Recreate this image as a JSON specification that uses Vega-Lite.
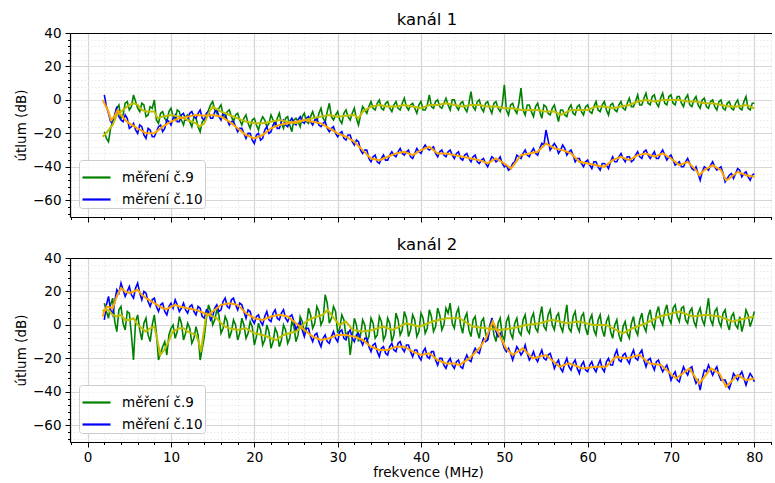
{
"$schema": "https://vega.github.io/schema/vega-lite/v6.json",
"padding": {"left": 14, "top": 11, "right": 0, "bottom": 0},
"config": {
  "font": "DejaVu Sans",
  "view": {"stroke": null},
  "axis": {"labelFont": "DejaVu Sans", "labelFontSize": 13.5, "labelColor": "black", "titleFont": "DejaVu Sans", "titleFontSize": 13.5, "titleFontWeight": "normal", "titleColor": "black", "tickColor": "black", "domainColor": "black", "domainWidth": 1.2, "tickWidth": 1, "gridColor": "#d6d6d6", "gridWidth": 1.2, "labelPadding": 4, "titlePadding": 4},
  "title": {"font": "DejaVu Sans", "fontSize": 16.5, "fontWeight": "normal", "color": "black", "offset": -2, "dx": 6},
  "legend": {"orient": "bottom-left", "offset": 9, "symbolType": "stroke", "symbolStrokeWidth": 2.2, "symbolSize": 784, "labelFont": "DejaVu Sans", "labelFontSize": 13.5, "labelColor": "black", "strokeColor": "#cccccc", "fillColor": "rgba(255,255,255,0.85)", "cornerRadius": 3, "padding": 2, "rowPadding": -5, "labelOffset": 10},
  "concat": {"spacing": 13}
},
"datasets": {
"r1": [
{"f":2,"g":-19,"b":3},{"f":2.5,"g":-25,"b":-8},{"f":3,"g":-13,"b":-14},{"f":3.5,"g":-5,"b":-4},{"f":4,"g":-11,"b":-12},{"f":4.5,"g":-2,"b":-9},{"f":5,"g":-6,"b":-17},{"f":5.5,"g":3,"b":-14},{"f":6,"g":-5,"b":-20},{"f":6.5,"g":-2,"b":-16},{"f":7,"g":-10,"b":-23},{"f":7.5,"g":-4,"b":-18},{"f":8,"g":0,"b":-22},{"f":8.5,"g":-14,"b":-16},{"f":9,"g":-7,"b":-19},{"f":9.5,"g":-13,"b":-12},{"f":10,"g":-5,"b":-15},{"f":10.5,"g":-12,"b":-9},{"f":11,"g":-7,"b":-13},{"f":11.5,"g":-15,"b":-8},{"f":12,"g":-9,"b":-12},{"f":12.5,"g":-16,"b":-7},{"f":13,"g":-11,"b":-11},{"f":13.5,"g":-19,"b":-6},{"f":14,"g":-12,"b":-12},{"f":14.5,"g":-6,"b":-7},{"f":15,"g":-1,"b":-11},{"f":15.5,"g":-8,"b":-6},{"f":16,"g":-3,"b":-12},{"f":16.5,"g":-11,"b":-9},{"f":17,"g":-6,"b":-15},{"f":17.5,"g":-13,"b":-13},{"f":18,"g":-8,"b":-19},{"f":18.5,"g":-15,"b":-17},{"f":19,"g":-9,"b":-23},{"f":19.5,"g":-17,"b":-20},{"f":20,"g":-11,"b":-26},{"f":20.5,"g":-18,"b":-20},{"f":21,"g":-10,"b":-23},{"f":21.5,"g":-16,"b":-16},{"f":22,"g":-9,"b":-19},{"f":22.5,"g":-15,"b":-13},{"f":23,"g":-8,"b":-17},{"f":23.5,"g":-17,"b":-12},{"f":24,"g":-10,"b":-16},{"f":24.5,"g":-19,"b":-11},{"f":25,"g":-11,"b":-15},{"f":25.5,"g":-16,"b":-10},{"f":26,"g":-8,"b":-14},{"f":26.5,"g":-14,"b":-10},{"f":27,"g":-7,"b":-15},{"f":27.5,"g":-13,"b":-11},{"f":28,"g":-5,"b":-16},{"f":28.5,"g":-13,"b":-13},{"f":29,"g":-2,"b":-19},{"f":29.5,"g":-12,"b":-16},{"f":30,"g":-7,"b":-22},{"f":30.5,"g":-14,"b":-19},{"f":31,"g":-6,"b":-24},{"f":31.5,"g":-12,"b":-21},{"f":32,"g":-5,"b":-27},{"f":32.5,"g":-15,"b":-25},{"f":33,"g":-4,"b":-32},{"f":33.5,"g":-8,"b":-30},{"f":34,"g":-1,"b":-37},{"f":34.5,"g":-6,"b":-33},{"f":35,"g":0,"b":-38},{"f":35.5,"g":-6,"b":-33},{"f":36,"g":-1,"b":-36},{"f":36.5,"g":-7,"b":-31},{"f":37,"g":-1,"b":-34},{"f":37.5,"g":-6,"b":-29},{"f":38,"g":1,"b":-33},{"f":38.5,"g":-6,"b":-30},{"f":39,"g":-2,"b":-35},{"f":39.5,"g":-8,"b":-29},{"f":40,"g":-1,"b":-32},{"f":40.5,"g":-6,"b":-27},{"f":41,"g":3,"b":-30},{"f":41.5,"g":-5,"b":-28},{"f":42,"g":0,"b":-34},{"f":42.5,"g":-5,"b":-30},{"f":43,"g":1,"b":-34},{"f":43.5,"g":-6,"b":-30},{"f":44,"g":0,"b":-35},{"f":44.5,"g":-6,"b":-31},{"f":45,"g":-1,"b":-36},{"f":45.5,"g":-7,"b":-32},{"f":46,"g":5,"b":-37},{"f":46.5,"g":-6,"b":-33},{"f":47,"g":0,"b":-38},{"f":47.5,"g":-7,"b":-35},{"f":48,"g":-1,"b":-40},{"f":48.5,"g":-8,"b":-34},{"f":49,"g":-1,"b":-37},{"f":49.5,"g":-7,"b":-34},{"f":50,"g":9,"b":-40},{"f":50.5,"g":-9,"b":-42},{"f":51,"g":-2,"b":-38},{"f":51.5,"g":-8,"b":-33},{"f":52,"g":7,"b":-35},{"f":52.5,"g":-9,"b":-30},{"f":53,"g":-3,"b":-34},{"f":53.5,"g":-10,"b":-29},{"f":54,"g":-2,"b":-33},{"f":54.5,"g":-11,"b":-26},{"f":55,"g":-4,"b":-18},{"f":55.5,"g":-9,"b":-30},{"f":56,"g":-3,"b":-26},{"f":56.5,"g":-13,"b":-32},{"f":57,"g":-6,"b":-27},{"f":57.5,"g":-10,"b":-33},{"f":58,"g":-3,"b":-30},{"f":58.5,"g":-9,"b":-37},{"f":59,"g":-3,"b":-35},{"f":59.5,"g":-9,"b":-40},{"f":60,"g":-3,"b":-36},{"f":60.5,"g":-8,"b":-41},{"f":61,"g":-1,"b":-37},{"f":61.5,"g":-7,"b":-42},{"f":62,"g":-1,"b":-38},{"f":62.5,"g":-9,"b":-41},{"f":63,"g":-2,"b":-34},{"f":63.5,"g":-7,"b":-37},{"f":64,"g":-1,"b":-32},{"f":64.5,"g":-6,"b":-37},{"f":65,"g":1,"b":-34},{"f":65.5,"g":-4,"b":-36},{"f":66,"g":3,"b":-31},{"f":66.5,"g":-3,"b":-35},{"f":67,"g":4,"b":-30},{"f":67.5,"g":-3,"b":-35},{"f":68,"g":3,"b":-31},{"f":68.5,"g":-4,"b":-35},{"f":69,"g":4,"b":-30},{"f":69.5,"g":-3,"b":-36},{"f":70,"g":3,"b":-33},{"f":70.5,"g":-3,"b":-39},{"f":71,"g":2,"b":-37},{"f":71.5,"g":-4,"b":-40},{"f":72,"g":3,"b":-35},{"f":72.5,"g":-4,"b":-41},{"f":73,"g":2,"b":-40},{"f":73.5,"g":-5,"b":-48},{"f":74,"g":1,"b":-40},{"f":74.5,"g":-5,"b":-42},{"f":75,"g":0,"b":-37},{"f":75.5,"g":-6,"b":-42},{"f":76,"g":0,"b":-40},{"f":76.5,"g":-6,"b":-49},{"f":77,"g":-1,"b":-45},{"f":77.5,"g":-6,"b":-47},{"f":78,"g":0,"b":-41},{"f":78.5,"g":-6,"b":-46},{"f":79,"g":2,"b":-43},{"f":79.5,"g":-6,"b":-48},{"f":80,"g":-2,"b":-44},
{"f":2.25,"g":-23,"b":-4},{"f":2.75,"g":-17,"b":-13},{"f":3.25,"g":-9,"b":-9},{"f":3.75,"g":-3,"b":-10},{"f":4.25,"g":-9,"b":-13},{"f":4.75,"g":-1,"b":-11},{"f":5.25,"g":-4,"b":-16},{"f":5.75,"g":-1,"b":-18},{"f":6.25,"g":-7,"b":-15},{"f":6.75,"g":-3,"b":-21},{"f":7.25,"g":-9,"b":-17},{"f":7.75,"g":-5,"b":-22},{"f":8.25,"g":-12,"b":-19},{"f":8.75,"g":-8,"b":-15},{"f":9.25,"g":-11,"b":-17},{"f":9.75,"g":-7,"b":-13},{"f":10.25,"g":-10,"b":-11},{"f":10.75,"g":-6,"b":-13},{"f":11.25,"g":-12,"b":-9},{"f":11.75,"g":-10,"b":-12},{"f":12.25,"g":-13,"b":-8},{"f":12.75,"g":-10,"b":-10},{"f":13.25,"g":-16,"b":-8},{"f":13.75,"g":-13,"b":-11},{"f":14.25,"g":-10,"b":-8},{"f":14.75,"g":-3,"b":-11},{"f":15.25,"g":-6,"b":-7},{"f":15.75,"g":-5,"b":-10},{"f":16.25,"g":-9,"b":-8},{"f":16.75,"g":-7,"b":-12},{"f":17.25,"g":-10,"b":-13},{"f":17.75,"g":-9,"b":-16},{"f":18.25,"g":-12,"b":-17},{"f":18.75,"g":-11,"b":-20},{"f":19.25,"g":-14,"b":-20},{"f":19.75,"g":-12,"b":-24},{"f":20.25,"g":-15,"b":-21},{"f":20.75,"g":-13,"b":-24},{"f":21.25,"g":-12,"b":-18},{"f":21.75,"g":-14,"b":-20},{"f":22.25,"g":-12,"b":-15},{"f":22.75,"g":-11,"b":-17},{"f":23.25,"g":-14,"b":-13},{"f":23.75,"g":-11,"b":-15},{"f":24.25,"g":-15,"b":-13},{"f":24.75,"g":-12,"b":-14},{"f":25.25,"g":-13,"b":-12},{"f":25.75,"g":-10,"b":-13},{"f":26.25,"g":-13,"b":-11},{"f":26.75,"g":-10,"b":-13},{"f":27.25,"g":-11,"b":-12},{"f":27.75,"g":-8,"b":-15},{"f":28.25,"g":-11,"b":-14},{"f":28.75,"g":-7,"b":-17},{"f":29.25,"g":-10,"b":-17},{"f":29.75,"g":-9,"b":-20},{"f":30.25,"g":-12,"b":-20},{"f":30.75,"g":-8,"b":-23},{"f":31.25,"g":-10,"b":-21},{"f":31.75,"g":-8,"b":-25},{"f":32.25,"g":-11,"b":-24},{"f":32.75,"g":-9,"b":-30},{"f":33.25,"g":-6,"b":-30},{"f":33.75,"g":-4,"b":-35},{"f":34.25,"g":-5,"b":-34},{"f":34.75,"g":-2,"b":-37},{"f":35.25,"g":-5,"b":-35},{"f":35.75,"g":-2,"b":-36},{"f":36.25,"g":-5,"b":-33},{"f":36.75,"g":-3,"b":-33},{"f":37.25,"g":-5,"b":-31},{"f":37.75,"g":-2,"b":-32},{"f":38.25,"g":-4,"b":-31},{"f":38.75,"g":-3,"b":-34},{"f":39.25,"g":-5,"b":-32},{"f":39.75,"g":-3,"b":-31},{"f":40.25,"g":-6,"b":-29},{"f":40.75,"g":-3,"b":-29},{"f":41.25,"g":-4,"b":-29},{"f":41.75,"g":-1,"b":-32},{"f":42.25,"g":-4,"b":-31},{"f":42.75,"g":-2,"b":-33},{"f":43.25,"g":-3,"b":-31},{"f":43.75,"g":0,"b":-33},{"f":44.25,"g":-4,"b":-32},{"f":44.75,"g":-2,"b":-35},{"f":45.25,"g":-5,"b":-33},{"f":45.75,"g":-2,"b":-35},{"f":46.25,"g":-4,"b":-34},{"f":46.75,"g":-1,"b":-37},{"f":47.25,"g":-5,"b":-36},{"f":47.75,"g":-2,"b":-38},{"f":48.25,"g":-5,"b":-37},{"f":48.75,"g":-2,"b":-35},{"f":49.25,"g":-5,"b":-36},{"f":49.75,"g":-3,"b":-38},{"f":50.25,"g":-6,"b":-39},{"f":50.75,"g":-3,"b":-41},{"f":51.25,"g":-6,"b":-37},{"f":51.75,"g":-2,"b":-34},{"f":52.25,"g":-6,"b":-32},{"f":52.75,"g":-3,"b":-33},{"f":53.25,"g":-7,"b":-31},{"f":53.75,"g":-4,"b":-32},{"f":54.25,"g":-7,"b":-29},{"f":54.75,"g":-3,"b":-27},{"f":55.25,"g":-8,"b":-24},{"f":55.75,"g":-5,"b":-28},{"f":56.25,"g":-8,"b":-28},{"f":56.75,"g":-6,"b":-30},{"f":57.25,"g":-9,"b":-29},{"f":57.75,"g":-5,"b":-31},{"f":58.25,"g":-8,"b":-33},{"f":58.75,"g":-4,"b":-35},{"f":59.25,"g":-7,"b":-38},{"f":59.75,"g":-4,"b":-37},{"f":60.25,"g":-7,"b":-39},{"f":60.75,"g":-4,"b":-37},{"f":61.25,"g":-6,"b":-40},{"f":61.75,"g":-3,"b":-38},{"f":62.25,"g":-6,"b":-39},{"f":62.75,"g":-3,"b":-37},{"f":63.25,"g":-6,"b":-37},{"f":63.75,"g":-3,"b":-34},{"f":64.25,"g":-5,"b":-35},{"f":64.75,"g":-2,"b":-34},{"f":65.25,"g":-4,"b":-37},{"f":65.75,"g":-1,"b":-33},{"f":66.25,"g":-3,"b":-34},{"f":66.75,"g":1,"b":-31},{"f":67.25,"g":-2,"b":-33},{"f":67.75,"g":2,"b":-33},{"f":68.25,"g":-2,"b":-35},{"f":68.75,"g":1,"b":-32},{"f":69.25,"g":-2,"b":-33},{"f":69.75,"g":2,"b":-34},{"f":70.25,"g":-2,"b":-36},{"f":70.75,"g":2,"b":-38},{"f":71.25,"g":-2,"b":-40},{"f":71.75,"g":1,"b":-37},{"f":72.25,"g":-3,"b":-38},{"f":72.75,"g":0,"b":-42},{"f":73.25,"g":-3,"b":-44},{"f":73.75,"g":0,"b":-43},{"f":74.25,"g":-4,"b":-41},{"f":74.75,"g":-1,"b":-39},{"f":75.25,"g":-4,"b":-40},{"f":75.75,"g":-1,"b":-41},{"f":76.25,"g":-5,"b":-44},{"f":76.75,"g":-2,"b":-47},{"f":77.25,"g":-5,"b":-44},{"f":77.75,"g":-2,"b":-44},{"f":78.25,"g":-5,"b":-42},{"f":78.75,"g":-1,"b":-44},{"f":79.25,"g":-5,"b":-46},{"f":79.75,"g":-2,"b":-45}
],
"r2": [
{"f":2,"g":13,"b":3},{"f":2.5,"g":4,"b":17},{"f":3,"g":16,"b":6},{"f":3.5,"g":-4,"b":21},{"f":4,"g":11,"b":25},{"f":4.5,"g":-3,"b":17},{"f":5,"g":7,"b":23},{"f":5.5,"g":-21,"b":16},{"f":6,"g":6,"b":25},{"f":6.5,"g":-9,"b":15},{"f":7,"g":4,"b":19},{"f":7.5,"g":-10,"b":11},{"f":8,"g":6,"b":16},{"f":8.5,"g":-21,"b":8},{"f":9,"g":-13,"b":13},{"f":9.5,"g":-18,"b":6},{"f":10,"g":-2,"b":13},{"f":10.5,"g":-8,"b":15},{"f":11,"g":5,"b":8},{"f":11.5,"g":-9,"b":13},{"f":12,"g":1,"b":7},{"f":12.5,"g":-11,"b":12},{"f":13,"g":-1,"b":6},{"f":13.5,"g":-21,"b":10},{"f":14,"g":-7,"b":4},{"f":14.5,"g":12,"b":8},{"f":15,"g":0,"b":5},{"f":15.5,"g":9,"b":12},{"f":16,"g":-5,"b":9},{"f":16.5,"g":5,"b":16},{"f":17,"g":-8,"b":10},{"f":17.5,"g":3,"b":16},{"f":18,"g":-9,"b":9},{"f":18.5,"g":4,"b":12},{"f":19,"g":-8,"b":4},{"f":19.5,"g":2,"b":8},{"f":20,"g":-12,"b":1},{"f":20.5,"g":1,"b":6},{"f":21,"g":-12,"b":0},{"f":21.5,"g":0,"b":8},{"f":22,"g":-14,"b":2},{"f":22.5,"g":-2,"b":9},{"f":23,"g":-13,"b":3},{"f":23.5,"g":0,"b":9},{"f":24,"g":-11,"b":2},{"f":24.5,"g":2,"b":6},{"f":25,"g":-10,"b":-3},{"f":25.5,"g":5,"b":2},{"f":26,"g":-4,"b":-7},{"f":26.5,"g":10,"b":-2},{"f":27,"g":-2,"b":-10},{"f":27.5,"g":11,"b":-5},{"f":28,"g":0,"b":-13},{"f":28.5,"g":18,"b":-6},{"f":29,"g":1,"b":-11},{"f":29.5,"g":11,"b":-4},{"f":30,"g":-5,"b":-10},{"f":30.5,"g":6,"b":-3},{"f":31,"g":-7,"b":-9},{"f":31.5,"g":-18,"b":-3},{"f":32,"g":4,"b":-10},{"f":32.5,"g":-10,"b":-5},{"f":33,"g":3,"b":-12},{"f":33.5,"g":-10,"b":-8},{"f":34,"g":4,"b":-16},{"f":34.5,"g":-8,"b":-11},{"f":35,"g":5,"b":-19},{"f":35.5,"g":-9,"b":-13},{"f":36,"g":4,"b":-18},{"f":36.5,"g":-10,"b":-11},{"f":37,"g":7,"b":-16},{"f":37.5,"g":-6,"b":-10},{"f":38,"g":8,"b":-16},{"f":38.5,"g":-7,"b":-12},{"f":39,"g":6,"b":-19},{"f":39.5,"g":-7,"b":-15},{"f":40,"g":7,"b":-21},{"f":40.5,"g":-5,"b":-14},{"f":41,"g":9,"b":-20},{"f":41.5,"g":-4,"b":-16},{"f":42,"g":10,"b":-24},{"f":42.5,"g":-3,"b":-20},{"f":43,"g":10,"b":-26},{"f":43.5,"g":13,"b":-20},{"f":44,"g":-2,"b":-26},{"f":44.5,"g":10,"b":-21},{"f":45,"g":-5,"b":-26},{"f":45.5,"g":7,"b":-18},{"f":46,"g":-7,"b":-22},{"f":46.5,"g":5,"b":-14},{"f":47,"g":-8,"b":-17},{"f":47.5,"g":4,"b":-8},{"f":48,"g":-9,"b":-9},{"f":48.5,"g":3,"b":4},{"f":49,"g":-10,"b":-4},{"f":49.5,"g":4,"b":-5},{"f":50,"g":-9,"b":-14},{"f":50.5,"g":5,"b":-14},{"f":51,"g":-8,"b":-21},{"f":51.5,"g":4,"b":-13},{"f":52,"g":-6,"b":-18},{"f":52.5,"g":6,"b":-12},{"f":53,"g":-5,"b":-21},{"f":53.5,"g":7,"b":-16},{"f":54,"g":-4,"b":-22},{"f":54.5,"g":11,"b":-15},{"f":55,"g":-3,"b":-21},{"f":55.5,"g":9,"b":-17},{"f":56,"g":-3,"b":-26},{"f":56.5,"g":7,"b":-21},{"f":57,"g":-4,"b":-28},{"f":57.5,"g":12,"b":-20},{"f":58,"g":-4,"b":-27},{"f":58.5,"g":8,"b":-21},{"f":59,"g":-4,"b":-29},{"f":59.5,"g":7,"b":-22},{"f":60,"g":-6,"b":-28},{"f":60.5,"g":6,"b":-22},{"f":61,"g":-6,"b":-28},{"f":61.5,"g":6,"b":-21},{"f":62,"g":-7,"b":-28},{"f":62.5,"g":5,"b":-20},{"f":63,"g":-8,"b":-24},{"f":63.5,"g":3,"b":-15},{"f":64,"g":-10,"b":-22},{"f":64.5,"g":2,"b":-17},{"f":65,"g":-8,"b":-23},{"f":65.5,"g":5,"b":-15},{"f":66,"g":-6,"b":-21},{"f":66.5,"g":7,"b":-15},{"f":67,"g":-4,"b":-25},{"f":67.5,"g":9,"b":-20},{"f":68,"g":-2,"b":-27},{"f":68.5,"g":11,"b":-21},{"f":69,"g":0,"b":-28},{"f":69.5,"g":12,"b":-24},{"f":70,"g":1,"b":-33},{"f":70.5,"g":12,"b":-28},{"f":71,"g":2,"b":-34},{"f":71.5,"g":11,"b":-25},{"f":72,"g":1,"b":-30},{"f":72.5,"g":10,"b":-25},{"f":73,"g":-1,"b":-35},{"f":73.5,"g":10,"b":-39},{"f":74,"g":0,"b":-27},{"f":74.5,"g":16,"b":-24},{"f":75,"g":0,"b":-30},{"f":75.5,"g":10,"b":-25},{"f":76,"g":-1,"b":-33},{"f":76.5,"g":9,"b":-33},{"f":77,"g":-3,"b":-38},{"f":77.5,"g":7,"b":-29},{"f":78,"g":-2,"b":-33},{"f":78.5,"g":-4,"b":-28},{"f":79,"g":9,"b":-36},{"f":79.5,"g":-1,"b":-29},{"f":80,"g":8,"b":-34},
{"f":2.25,"g":8,"b":12},{"f":2.75,"g":12,"b":9},{"f":3.25,"g":2,"b":14},{"f":3.75,"g":9,"b":19},{"f":4.25,"g":1,"b":21},{"f":4.75,"g":8,"b":20},{"f":5.25,"g":-6,"b":18},{"f":5.75,"g":2,"b":22},{"f":6.25,"g":-3,"b":19},{"f":6.75,"g":1,"b":20},{"f":7.25,"g":-6,"b":14},{"f":7.75,"g":0,"b":15},{"f":8.25,"g":-5,"b":11},{"f":8.75,"g":-17,"b":12},{"f":9.25,"g":-10,"b":8},{"f":9.75,"g":-6,"b":11},{"f":10.25,"g":0,"b":10},{"f":10.75,"g":-4,"b":12},{"f":11.25,"g":1,"b":10},{"f":11.75,"g":-5,"b":9},{"f":12.25,"g":-2,"b":11},{"f":12.75,"g":-8,"b":8},{"f":13.25,"g":-6,"b":11},{"f":13.75,"g":-14,"b":5},{"f":14.25,"g":4,"b":9},{"f":14.75,"g":8,"b":3},{"f":15.25,"g":3,"b":10},{"f":15.75,"g":6,"b":8},{"f":16.25,"g":-2,"b":14},{"f":16.75,"g":2,"b":11},{"f":17.25,"g":-4,"b":15},{"f":17.75,"g":0,"b":12},{"f":18.25,"g":-5,"b":13},{"f":18.75,"g":0,"b":8},{"f":19.25,"g":-5,"b":9},{"f":19.75,"g":-1,"b":3},{"f":20.25,"g":-7,"b":5},{"f":20.75,"g":-3,"b":2},{"f":21.25,"g":-9,"b":5},{"f":21.75,"g":-4,"b":3},{"f":22.25,"g":-10,"b":7},{"f":22.75,"g":-5,"b":4},{"f":23.25,"g":-9,"b":7},{"f":23.75,"g":-3,"b":4},{"f":24.25,"g":-8,"b":5},{"f":24.75,"g":-1,"b":2},{"f":25.25,"g":-6,"b":0},{"f":25.75,"g":2,"b":-3},{"f":26.25,"g":-1,"b":-2},{"f":26.75,"g":6,"b":-7},{"f":27.25,"g":1,"b":-6},{"f":27.75,"g":8,"b":-10},{"f":28.25,"g":3,"b":-8},{"f":28.75,"g":13,"b":-10},{"f":29.25,"g":4,"b":-7},{"f":29.75,"g":8,"b":-8},{"f":30.25,"g":-2,"b":-4},{"f":30.75,"g":3,"b":-8},{"f":31.25,"g":-4,"b":-5},{"f":31.75,"g":-8,"b":-8},{"f":32.25,"g":0,"b":-6},{"f":32.75,"g":-6,"b":-9},{"f":33.25,"g":0,"b":-8},{"f":33.75,"g":-7,"b":-13},{"f":34.25,"g":1,"b":-12},{"f":34.75,"g":-6,"b":-16},{"f":35.25,"g":2,"b":-14},{"f":35.75,"g":-6,"b":-17},{"f":36.25,"g":1,"b":-13},{"f":36.75,"g":-6,"b":-15},{"f":37.25,"g":3,"b":-11},{"f":37.75,"g":-3,"b":-14},{"f":38.25,"g":4,"b":-12},{"f":38.75,"g":-3,"b":-16},{"f":39.25,"g":3,"b":-15},{"f":39.75,"g":-4,"b":-19},{"f":40.25,"g":4,"b":-16},{"f":40.75,"g":-2,"b":-19},{"f":41.25,"g":5,"b":-16},{"f":41.75,"g":-1,"b":-21},{"f":42.25,"g":6,"b":-20},{"f":42.75,"g":0,"b":-24},{"f":43.25,"g":7,"b":-22},{"f":43.75,"g":1,"b":-24},{"f":44.25,"g":7,"b":-22},{"f":44.75,"g":0,"b":-25},{"f":45.25,"g":4,"b":-21},{"f":45.75,"g":-3,"b":-21},{"f":46.25,"g":3,"b":-17},{"f":46.75,"g":-4,"b":-16},{"f":47.25,"g":2,"b":-12},{"f":47.75,"g":-5,"b":-10},{"f":48.25,"g":0,"b":-3},{"f":48.75,"g":-6,"b":0},{"f":49.25,"g":1,"b":-7},{"f":49.75,"g":-6,"b":-10},{"f":50.25,"g":2,"b":-16},{"f":50.75,"g":-5,"b":-17},{"f":51.25,"g":1,"b":-17},{"f":51.75,"g":-4,"b":-15},{"f":52.25,"g":3,"b":-16},{"f":52.75,"g":-3,"b":-17},{"f":53.25,"g":4,"b":-19},{"f":53.75,"g":-2,"b":-20},{"f":54.25,"g":5,"b":-18},{"f":54.75,"g":-1,"b":-20},{"f":55.25,"g":6,"b":-18},{"f":55.75,"g":0,"b":-21},{"f":56.25,"g":5,"b":-23},{"f":56.75,"g":-1,"b":-26},{"f":57.25,"g":4,"b":-23},{"f":57.75,"g":-2,"b":-25},{"f":58.25,"g":5,"b":-23},{"f":58.75,"g":-1,"b":-26},{"f":59.25,"g":5,"b":-24},{"f":59.75,"g":-2,"b":-27},{"f":60.25,"g":3,"b":-24},{"f":60.75,"g":-3,"b":-26},{"f":61.25,"g":3,"b":-24},{"f":61.75,"g":-3,"b":-26},{"f":62.25,"g":2,"b":-22},{"f":62.75,"g":-4,"b":-24},{"f":63.25,"g":0,"b":-18},{"f":63.75,"g":-6,"b":-21},{"f":64.25,"g":-1,"b":-18},{"f":64.75,"g":-5,"b":-21},{"f":65.25,"g":1,"b":-18},{"f":65.75,"g":-3,"b":-20},{"f":66.25,"g":3,"b":-17},{"f":66.75,"g":-1,"b":-21},{"f":67.25,"g":5,"b":-21},{"f":67.75,"g":1,"b":-24},{"f":68.25,"g":7,"b":-22},{"f":68.75,"g":3,"b":-25},{"f":69.25,"g":8,"b":-26},{"f":69.75,"g":4,"b":-28},{"f":70.25,"g":10,"b":-30},{"f":70.75,"g":5,"b":-33},{"f":71.25,"g":10,"b":-29},{"f":71.75,"g":3,"b":-28},{"f":72.25,"g":8,"b":-26},{"f":72.75,"g":2,"b":-31},{"f":73.25,"g":7,"b":-33},{"f":73.75,"g":3,"b":-32},{"f":74.25,"g":8,"b":-28},{"f":74.75,"g":3,"b":-27},{"f":75.25,"g":8,"b":-27},{"f":75.75,"g":2,"b":-30},{"f":76.25,"g":7,"b":-33},{"f":76.75,"g":1,"b":-36},{"f":77.25,"g":5,"b":-34},{"f":77.75,"g":0,"b":-31},{"f":78.25,"g":5,"b":-30},{"f":78.75,"g":1,"b":-32},{"f":79.25,"g":6,"b":-32},{"f":79.75,"g":3,"b":-31}
],
"s1g": [
{"f":1.8,"v":-22},{"f":2,"v":-21},{"f":2.5,"v":-18},{"f":3,"v":-15},{"f":3.5,"v":-9},{"f":4,"v":-7},{"f":4.5,"v":-5},{"f":5,"v":-3},{"f":5.5,"v":-2},{"f":6,"v":-3},{"f":6.5,"v":-6},{"f":7,"v":-7},{"f":8,"v":-7},{"f":8.4,"v":-11},{"f":9,"v":-10},{"f":10,"v":-9},{"f":11,"v":-10},{"f":12,"v":-12},{"f":13,"v":-14},{"f":13.4,"v":-16},{"f":14,"v":-14},{"f":14.5,"v":-8},{"f":15,"v":-4},{"f":16,"v":-7},{"f":17,"v":-9},{"f":18,"v":-11},{"f":19,"v":-13},{"f":20,"v":-14},{"f":21,"v":-14},{"f":22,"v":-13},{"f":23,"v":-12},{"f":24,"v":-13},{"f":25,"v":-14},{"f":26,"v":-12},{"f":27,"v":-11},{"f":28,"v":-10},{"f":29,"v":-9},{"f":30,"v":-10},{"f":31,"v":-9.5},{"f":32,"v":-9},{"f":32.5,"v":-11},{"f":33,"v":-7},{"f":34,"v":-4},{"f":35,"v":-3},{"f":36,"v":-4},{"f":37,"v":-4},{"f":38,"v":-3},{"f":39,"v":-4},{"f":40,"v":-5},{"f":41,"v":-3},{"f":42,"v":-3},{"f":43,"v":-2},{"f":44,"v":-3},{"f":45,"v":-4},{"f":46,"v":-3},{"f":47,"v":-3},{"f":48,"v":-4},{"f":49,"v":-4},{"f":50,"v":-5},{"f":51,"v":-5},{"f":52,"v":-6},{"f":53,"v":-6},{"f":54,"v":-6},{"f":55,"v":-7},{"f":56,"v":-7},{"f":56.8,"v":-9},{"f":58,"v":-6},{"f":59,"v":-6},{"f":60,"v":-6},{"f":61,"v":-4},{"f":62,"v":-4},{"f":63,"v":-5},{"f":64,"v":-4},{"f":65,"v":-3},{"f":66,"v":-1},{"f":67,"v":0},{"f":68,"v":-1},{"f":69,"v":0},{"f":70,"v":0},{"f":71,"v":0},{"f":72,"v":-1},{"f":73,"v":-1},{"f":74,"v":-2},{"f":75,"v":-2},{"f":76,"v":-3},{"f":77,"v":-4},{"f":78,"v":-4},{"f":79,"v":-3},{"f":80,"v":-5}
],
"s1b": [
{"f":1.8,"v":0},{"f":2,"v":-2},{"f":2.5,"v":-7},{"f":2.8,"v":-12},{"f":3.2,"v":-10},{"f":3.6,"v":-6},{"f":4,"v":-9},{"f":4.5,"v":-12},{"f":5,"v":-14},{"f":6,"v":-17},{"f":7,"v":-20},{"f":8,"v":-20},{"f":9,"v":-16},{"f":10,"v":-13},{"f":11,"v":-11},{"f":12,"v":-10},{"f":13,"v":-9},{"f":14,"v":-9.5},{"f":15,"v":-9},{"f":16,"v":-10},{"f":17,"v":-13},{"f":18,"v":-17},{"f":19,"v":-21},{"f":20,"v":-23},{"f":21,"v":-21},{"f":22,"v":-17},{"f":23,"v":-15},{"f":24,"v":-14},{"f":25,"v":-13},{"f":26,"v":-12},{"f":27,"v":-13},{"f":28,"v":-14},{"f":29,"v":-17},{"f":30,"v":-20},{"f":31,"v":-22},{"f":32,"v":-25},{"f":33,"v":-30},{"f":34,"v":-35},{"f":35,"v":-36},{"f":36,"v":-34},{"f":37,"v":-32},{"f":38,"v":-31},{"f":39,"v":-33},{"f":40,"v":-30},{"f":41,"v":-28},{"f":42,"v":-32},{"f":43,"v":-32},{"f":44,"v":-33},{"f":45,"v":-34},{"f":46,"v":-35},{"f":47,"v":-36},{"f":48,"v":-38},{"f":49,"v":-35},{"f":50,"v":-38},{"f":50.8,"v":-41},{"f":52,"v":-33},{"f":53,"v":-32},{"f":54,"v":-31},{"f":55,"v":-26},{"f":56,"v":-29},{"f":57,"v":-30},{"f":58,"v":-32},{"f":59,"v":-37},{"f":60,"v":-38},{"f":61,"v":-39},{"f":62,"v":-40},{"f":63,"v":-36},{"f":64,"v":-34},{"f":65,"v":-36},{"f":66,"v":-33},{"f":67,"v":-32},{"f":68,"v":-34},{"f":69,"v":-32},{"f":70,"v":-35},{"f":71,"v":-39},{"f":72,"v":-37},{"f":73,"v":-42},{"f":73.4,"v":-45},{"f":74,"v":-42},{"f":75,"v":-39},{"f":76,"v":-42},{"f":76.6,"v":-48},{"f":77,"v":-47},{"f":78,"v":-43},{"f":79,"v":-45},{"f":80,"v":-46}
],
"s2g": [
{"f":1.8,"v":8},{"f":2,"v":9},{"f":2.5,"v":9},{"f":3,"v":6},{"f":3.5,"v":5},{"f":4,"v":6},{"f":4.5,"v":3},{"f":5,"v":3},{"f":5.5,"v":4},{"f":6,"v":0},{"f":6.5,"v":-2},{"f":7,"v":-4},{"f":7.5,"v":-2},{"f":8,"v":-1},{"f":8.4,"v":-10},{"f":8.7,"v":-18},{"f":9.2,"v":-15},{"f":9.7,"v":-10},{"f":10.2,"v":-4},{"f":11,"v":-2},{"f":11.5,"v":-2},{"f":12,"v":-4},{"f":13,"v":-6},{"f":13.3,"v":-10},{"f":13.6,"v":-16},{"f":13.9,"v":-5},{"f":14.2,"v":5},{"f":14.5,"v":6},{"f":15,"v":5},{"f":15.5,"v":4},{"f":16,"v":1},{"f":16.5,"v":-1},{"f":17,"v":-2},{"f":18,"v":-3},{"f":19,"v":-2},{"f":20,"v":-5},{"f":21,"v":-6},{"f":22,"v":-8},{"f":22.6,"v":-9},{"f":23.5,"v":-6},{"f":24.5,"v":-4.5},{"f":25,"v":-4},{"f":25.5,"v":-2},{"f":26,"v":1},{"f":26.5,"v":3},{"f":27.5,"v":5},{"f":28.2,"v":6},{"f":28.8,"v":9},{"f":29.4,"v":5},{"f":30.2,"v":0},{"f":31,"v":2},{"f":31.8,"v":-3},{"f":33,"v":-4},{"f":34.2,"v":-3},{"f":35.4,"v":-1},{"f":36.6,"v":-3},{"f":38.2,"v":1},{"f":39.8,"v":-1},{"f":41.4,"v":2},{"f":43,"v":4},{"f":44.6,"v":4},{"f":46.2,"v":-1},{"f":47.8,"v":-2},{"f":49.4,"v":-3},{"f":51,"v":-2},{"f":52.6,"v":0},{"f":54.2,"v":1},{"f":55.8,"v":3},{"f":57.4,"v":1},{"f":59,"v":2},{"f":60.6,"v":0},{"f":62.2,"v":0},{"f":63.4,"v":-3},{"f":64.2,"v":-5},{"f":65.4,"v":-2},{"f":67,"v":1},{"f":68.6,"v":5},{"f":70.2,"v":7},{"f":71,"v":8},{"f":72.6,"v":5},{"f":74.2,"v":6},{"f":75.8,"v":5},{"f":77.4,"v":2},{"f":79,"v":4},{"f":80,"v":5}
],
"s2b": [
{"f":1.8,"v":5},{"f":2,"v":8},{"f":2.3,"v":11},{"f":3,"v":10},{"f":3.5,"v":17},{"f":4,"v":22},{"f":4.5,"v":20},{"f":5,"v":19},{"f":5.5,"v":20},{"f":6,"v":21},{"f":6.5,"v":18},{"f":7,"v":16},{"f":8,"v":13},{"f":9,"v":10},{"f":9.5,"v":9.5},{"f":10.5,"v":12},{"f":11,"v":11},{"f":12,"v":10},{"f":13,"v":9},{"f":14,"v":7},{"f":14.5,"v":6},{"f":15,"v":8},{"f":16,"v":12},{"f":17,"v":13},{"f":18,"v":12},{"f":19,"v":7},{"f":20,"v":4},{"f":21,"v":3},{"f":22,"v":5},{"f":23,"v":6},{"f":24,"v":5},{"f":25,"v":1},{"f":26,"v":-3},{"f":27,"v":-7},{"f":28,"v":-9},{"f":29,"v":-8},{"f":30,"v":-6},{"f":31,"v":-6},{"f":32,"v":-7},{"f":33,"v":-9},{"f":34,"v":-13},{"f":35,"v":-15},{"f":36,"v":-15},{"f":37,"v":-13},{"f":38,"v":-13},{"f":39,"v":-16},{"f":40,"v":-18},{"f":41,"v":-17},{"f":42,"v":-21},{"f":43,"v":-23},{"f":44,"v":-23},{"f":44.6,"v":-24},{"f":45.8,"v":-20},{"f":47,"v":-14},{"f":47.8,"v":-8},{"f":48.6,"v":2},{"f":49.4,"v":-6},{"f":50.2,"v":-14},{"f":51,"v":-18},{"f":52.2,"v":-14},{"f":53.4,"v":-20},{"f":55,"v":-18},{"f":56.6,"v":-25},{"f":57.8,"v":-23},{"f":59.4,"v":-26},{"f":61,"v":-25},{"f":62.2,"v":-25},{"f":63.4,"v":-19},{"f":64.6,"v":-20},{"f":66.2,"v":-18},{"f":67.4,"v":-23},{"f":68.8,"v":-24},{"f":70.6,"v":-32},{"f":72.2,"v":-26},{"f":73.4,"v":-35},{"f":74.8,"v":-26},{"f":75.8,"v":-29},{"f":76.6,"v":-37},{"f":78,"v":-30},{"f":79,"v":-33},{"f":80,"v":-32}
]
},
"resolve": {"scale": {"color": "independent"}, "legend": {"color": "independent"}},
"vconcat": [
{
  "title": "kanál 1",
  "width": 702, "height": 184,
  "resolve": {"axis": {"x": "independent", "y": "independent"}},
  "layer": [
    {"data": {"name": "r1"}, "mark": {"type": "line", "strokeWidth": 1.6},
     "encoding": {
       "x": {"field": "f", "type": "quantitative", "scale": {"domain": [-2.12, 82.12], "nice": false, "zero": false},
             "axis": {"values": [0,10,20,30,40,50,60,70,80], "labels": false, "title": null, "tickSize": 5, "grid": true}},
       "y": {"field": "g", "type": "quantitative", "scale": {"domain": [-70, 40], "nice": false, "zero": false},
             "axis": {"values": [-60,-40,-20,0,20,40], "title": "útlum (dB)", "tickSize": 5, "grid": true}},
       "color": {"datum": "měření č.9", "type": "nominal", "scale": {"domain": ["měření č.9", "měření č.10"], "range": ["green", "blue"]}, "legend": {"title": null}}
     }},
    {"data": {"name": "r1"}, "mark": {"type": "line", "strokeWidth": 1.6},
     "encoding": {
       "x": {"field": "f", "type": "quantitative",
             "axis": {"orient": "bottom", "values": [-2,2,4,6,8,12,14,16,18,22,24,26,28,32,34,36,38,42,44,46,48,52,54,56,58,62,64,66,68,72,74,76,78,82], "labels": false, "title": null, "tickSize": 2.5, "domain": false, "grid": true, "gridColor": "#e6e6e6", "gridWidth": 0.9, "gridDash": [1.5, 2]}},
       "y": {"field": "b", "type": "quantitative",
             "axis": {"orient": "left", "values": [-68,-64,-56,-52,-48,-44,-36,-32,-28,-24,-16,-12,-8,-4,4,8,12,16,24,28,32,36], "labels": false, "title": null, "tickSize": 2.5, "domain": false, "grid": true, "gridColor": "#e6e6e6", "gridWidth": 0.9, "gridDash": [1.5, 2]}},
       "color": {"datum": "měření č.10", "type": "nominal"}
     }},
    {"data": {"name": "s1g"}, "mark": {"type": "line", "color": "#bfbf00", "strokeWidth": 2},
     "encoding": {
       "x": {"field": "f", "type": "quantitative", "axis": {"orient": "top", "labels": false, "ticks": false, "grid": false, "title": null, "domain": true}},
       "y": {"field": "v", "type": "quantitative", "axis": null}
     }},
    {"data": {"name": "s1b"}, "mark": {"type": "line", "color": "orange", "strokeWidth": 2},
     "encoding": {
       "x": {"field": "f", "type": "quantitative", "axis": null},
       "y": {"field": "v", "type": "quantitative", "axis": null}
     }}
  ]
},
{
  "title": "kanál 2",
  "width": 702, "height": 184,
  "resolve": {"axis": {"x": "independent", "y": "independent"}},
  "layer": [
    {"data": {"name": "r2"}, "mark": {"type": "line", "strokeWidth": 1.6},
     "encoding": {
       "x": {"field": "f", "type": "quantitative", "scale": {"domain": [-2.12, 82.12], "nice": false, "zero": false},
             "axis": {"values": [0,10,20,30,40,50,60,70,80], "title": "frekvence (MHz)", "titleX": 358, "titlePadding": 2, "labelPadding": 3, "tickSize": 5, "grid": true}},
       "y": {"field": "g", "type": "quantitative", "scale": {"domain": [-70, 40], "nice": false, "zero": false},
             "axis": {"values": [-60,-40,-20,0,20,40], "title": "útlum (dB)", "tickSize": 5, "grid": true}},
       "color": {"datum": "měření č.9", "type": "nominal", "scale": {"domain": ["měření č.9", "měření č.10"], "range": ["green", "blue"]}, "legend": {"title": null}}
     }},
    {"data": {"name": "r2"}, "mark": {"type": "line", "strokeWidth": 1.6},
     "encoding": {
       "x": {"field": "f", "type": "quantitative",
             "axis": {"orient": "bottom", "values": [-2,2,4,6,8,12,14,16,18,22,24,26,28,32,34,36,38,42,44,46,48,52,54,56,58,62,64,66,68,72,74,76,78,82], "labels": false, "title": null, "tickSize": 2.5, "domain": false, "grid": true, "gridColor": "#e6e6e6", "gridWidth": 0.9, "gridDash": [1.5, 2]}},
       "y": {"field": "b", "type": "quantitative",
             "axis": {"orient": "left", "values": [-68,-64,-56,-52,-48,-44,-36,-32,-28,-24,-16,-12,-8,-4,4,8,12,16,24,28,32,36], "labels": false, "title": null, "tickSize": 2.5, "domain": false, "grid": true, "gridColor": "#e6e6e6", "gridWidth": 0.9, "gridDash": [1.5, 2]}},
       "color": {"datum": "měření č.10", "type": "nominal"}
     }},
    {"data": {"name": "s2g"}, "mark": {"type": "line", "color": "#bfbf00", "strokeWidth": 2},
     "encoding": {
       "x": {"field": "f", "type": "quantitative", "axis": {"orient": "top", "labels": false, "ticks": false, "grid": false, "title": null, "domain": true}},
       "y": {"field": "v", "type": "quantitative", "axis": null}
     }},
    {"data": {"name": "s2b"}, "mark": {"type": "line", "color": "orange", "strokeWidth": 2},
     "encoding": {
       "x": {"field": "f", "type": "quantitative", "axis": null},
       "y": {"field": "v", "type": "quantitative", "axis": null}
     }}
  ]
}
]
}
